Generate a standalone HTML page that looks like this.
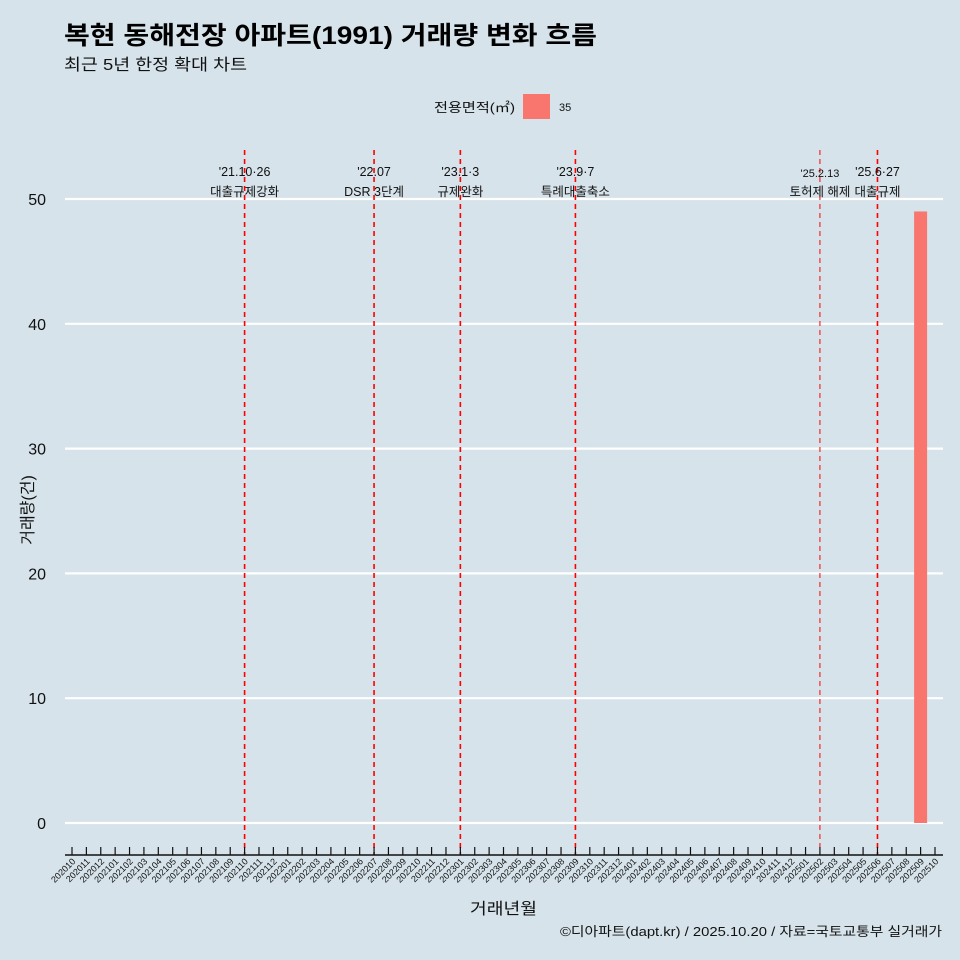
<!DOCTYPE html>
<html><head><meta charset="utf-8"><style>
body{margin:0;background:#d6e3ea;}
svg{display:block;font-family:"Liberation Sans","Noto Sans CJK KR",sans-serif;}
</style></head><body>
<svg id="c" width="960" height="960" viewBox="0 0 960 960">
<rect width="960" height="960" fill="#d6e3ea"/>
<text x="64" y="44" font-size="25" font-weight="bold" fill="#000" textLength="533" lengthAdjust="spacingAndGlyphs">복현 동해전장 아파트(1991) 거래량 변화 흐름</text>
<text x="64" y="70" font-size="16" fill="#111" textLength="183" lengthAdjust="spacingAndGlyphs">최근 5년 한정 확대 차트</text>
<g>
<text x="434" y="112" font-size="13" fill="#111" textLength="81" lengthAdjust="spacingAndGlyphs">전용면적(㎡)</text>
<rect x="523" y="94" width="27" height="25" fill="#f8766d"/>
<text x="559" y="111" font-size="11" fill="#111">35</text>
</g>
<g id="grid"></g><g id="events"></g><g id="bars"></g><g id="xaxis"></g><g id="yaxis"></g>
<text x="470" y="914" font-size="16" fill="#111" textLength="67" lengthAdjust="spacingAndGlyphs">거래년월</text>
<text transform="translate(33,510) rotate(-90)" font-size="16" text-anchor="middle" fill="#111">거래량(건)</text>
<text x="560" y="936" font-size="13" fill="#111" textLength="382" lengthAdjust="spacingAndGlyphs">©디아파트(dapt.kr) / 2025.10.20 / 자료=국토교통부 실거래가</text>
</svg>
<script>
const months=[];for(let y=2020,m=10;y*100+m<=202510;){months.push(''+y+(m<10?'0'+m:m));m++;if(m>12){m=1;y++;}}
const barMonths=['202509'];
const barValues=[49];
const yTicks=[0,10,20,30,40,50];
const eventMonths=['202110','202207','202301','202309','202502','202506'];
const eventDates=["'21.10·26","'22.07","'23.1·3","'23.9·7","'25.2.13","'25.6·27"];
const eventLabels=['대출규제강화','DSR 3단계','규제완화','특례대출축소','토허제 해제','대출규제'];
const NS='http://www.w3.org/2000/svg';
function el(t,a,p){const e=document.createElementNS(NS,t);for(const k in a)e.setAttribute(k,a[k]);document.getElementById(p).appendChild(e);return e;}
const xs=i=>72+i*(935-72)/(months.length-1);
const ys=v=>823-v*(823-199)/50;
yTicks.forEach(v=>{
 const l=el('line',{x1:65,x2:943,y1:ys(v),y2:ys(v),stroke:'#fff','stroke-width':2.2},'grid');
 
 
 const t=el('text',{x:46,y:ys(v)+6,'font-size':16,'text-anchor':'end',fill:'#111'},'yaxis');t.textContent=v;
 
 
});
eventMonths.forEach((m,k)=>{
 const x=xs(months.indexOf(m));const thin=m==='202502';
 const l=el('line',{x1:x,x2:x,y1:150,y2:855,stroke:'#ff0000','stroke-width':thin?1:1.6,'stroke-dasharray':'5,4'},'events');
 
 
 const t1=el('text',{x:x,y:thin?177:176,'font-size':thin?11:12.5,'text-anchor':'middle',fill:'#111'},'events');t1.textContent=eventDates[k];
 
 
 const t2=el('text',{x:x,y:196,'font-size':12.5,'text-anchor':'middle',fill:'#111'},'events');t2.textContent=eventLabels[k];
 
 
});
barMonths.forEach((m,k)=>{
 const x=xs(months.indexOf(m));
 const r=el('rect',{x:x-6.5,width:13,y:ys(barValues[k]),height:ys(0)-ys(barValues[k]),fill:'#f8766d'},'bars');
 
 
});
const ax=el('line',{x1:65,x2:943,y1:855,y2:855,stroke:'#111','stroke-width':1.5},'xaxis');


months.forEach((m,i)=>{
 const x=xs(i);
 const tk=el('line',{x1:x,x2:x,y1:847,y2:855,stroke:'#111','stroke-width':1.2},'xaxis');
 
 
 const t=el('text',{transform:`translate(${x+4},${862}) rotate(-45)`,'font-size':9,'text-anchor':'end',fill:'#111'},'xaxis');t.textContent=m;
 
 
});
</script>
</body></html>
